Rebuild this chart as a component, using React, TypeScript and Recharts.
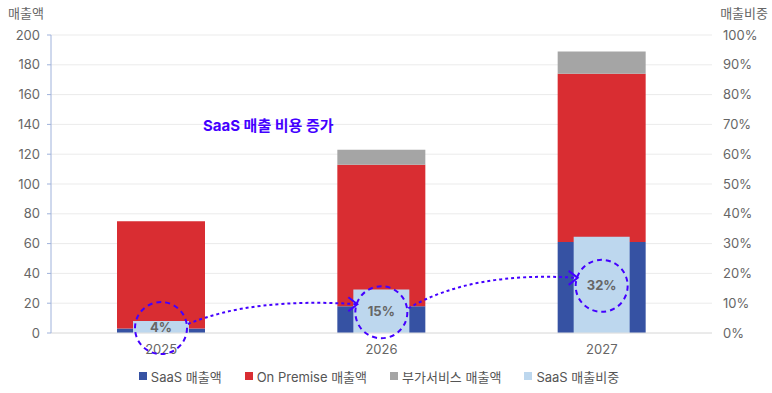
import React from 'react';
import { ComposedChart, Bar, XAxis, YAxis, CartesianGrid, Legend, LabelList, Customized } from 'recharts';

const years = ['2025', '2026', '2027'];
const saasRevenue = [3, 18, 61];
const onPremiseRevenue = [72, 95, 113];
const addOnRevenue = [0, 10, 15];
const saasShare = [4, 14.6, 32.3];
const leftTicks = [0, 20, 40, 60, 80, 100, 120, 140, 160, 180, 200];
const rightTicks = [0, 10, 20, 30, 40, 50, 60, 70, 80, 90, 100];

const seriesNames = ['SaaS 매출액', 'On Premise 매출액', '부가서비스 매출액', 'SaaS 매출비중'];
const colors = ['#3652a3', '#d92d32', '#a5a5a5', '#bdd7ee'];
const accent = '#4400ff';

const data = years.map((year, i) => ({
  year,
  saas: saasRevenue[i],
  onPrem: onPremiseRevenue[i],
  addOn: addOnRevenue[i],
  share: saasShare[i],
}));

const W = 772;
const H = 393;
const MARGIN = { top: 35, right: 0, bottom: 7, left: 0 };
const LEFT_AXIS_W = 51;
const RIGHT_AXIS_W = 60;
const PLOT_LEFT = MARGIN.left + LEFT_AXIS_W;
const PLOT_RIGHT = W - MARGIN.right - RIGHT_AXIS_W;
const STEP = (PLOT_RIGHT - PLOT_LEFT) / years.length;
const FONT = "Inter, 'Noto Sans CJK KR', sans-serif";

function ShareLabel(props: any) {
  const vb = props.viewBox && props.viewBox.width != null ? props.viewBox : props;
  const x = Number(vb.x), y = Number(vb.y), width = Number(vb.width), height = Number(vb.height);
  const cx = x + width / 2;
  const index = Math.round((cx - PLOT_LEFT - STEP / 2) / STEP);
  const value = saasShare[index];
  const cy = y + height / 2;
  const base = y + height;
  const pxPer = height / value;
  const r = 26;
  let arrow = null;
  if (index < years.length - 1) {
    const nextH = saasShare[index + 1] * pxPer;
    const ncx = cx + STEP;
    const ncy = base - nextH / 2;
    const sx = cx + r + 1;
    const sy = cy - 3;
    const ex = ncx - r + 2;
    const ey = ncy - 7;
    const qx = sx + (ex - sx) * 0.38;
    const qy = ey - 7;
    arrow = (
      <g>
        <path d={`M${sx},${sy} Q${qx},${qy} ${ex},${ey}`} fill="none" stroke={accent} strokeWidth={2} strokeDasharray="3 3" />
        <path d={`M${ex - 9},${ey - 7} L${ex},${ey} L${ex - 9},${ey + 7}`} fill="none" stroke={accent} strokeWidth={2} />
      </g>
    );
  }
  return (
    <g>
      <text x={cx} y={cy} textAnchor="middle" dominantBaseline="central" fontSize={13} fontWeight={700} fill="#666" fontFamily={FONT}>
        {Math.round(value)}%
      </text>
      <circle cx={cx} cy={cy + 1} r={r} fill="none" stroke={accent} strokeWidth={2} strokeDasharray="5 4" />
      {arrow}
    </g>
  );
}

function LegendContent() {
  return (
    <div style={{ display: 'flex', justifyContent: 'center', alignItems: 'center', height: 20, paddingRight: 14, fontFamily: FONT, fontSize: 13, color: '#555' }}>
      {seriesNames.map((n, i) => (
        <div key={n} style={{ display: 'flex', alignItems: 'center', marginRight: i < seriesNames.length - 1 ? 23 : 0 }}>
          <span style={{ display: 'inline-block', width: 8, height: 8, background: colors[i], marginRight: 4 }} />
          <span>{n}</span>
        </div>
      ))}
    </div>
  );
}

function Annotations() {
  return (
    <g fontFamily={FONT}>
      <text x={8} y={18} fontSize={13} fill="#666">매출액</text>
      <text x={768} y={18} fontSize={13} fill="#666" textAnchor="end">매출비중</text>
      <text x={203} y={131} fontSize={15} fontWeight={700} fill={accent}>SaaS 매출 비용 증가</text>
    </g>
  );
}

export default function App() {
  return (
    <div style={{ position: 'fixed', left: 0, top: 0, width: W, height: H, background: '#fff' }}>
      <ComposedChart width={W} height={H} data={data} margin={MARGIN} style={{ fontFamily: FONT }}>
        <CartesianGrid vertical={false} stroke="#ebebeb" yAxisId="left" xAxisId="main" />
        <XAxis xAxisId="main" dataKey="year" height={33} axisLine={{ stroke: '#e0e0e0' }} tickLine={false} tickMargin={6} tick={{ fill: '#666', fontSize: 13 }} />
        <XAxis xAxisId="ratio" dataKey="year" hide />
        <YAxis yAxisId="left" width={LEFT_AXIS_W} domain={[0, 200]} ticks={leftTicks} interval={0} axisLine={{ stroke: '#9fb2db' }} tickLine={{ stroke: '#9fb2db' }} tickSize={4} tickMargin={7} tick={{ fill: '#666', fontSize: 13 }} />
        <YAxis yAxisId="right" orientation="right" width={RIGHT_AXIS_W} domain={[0, 100]} ticks={rightTicks} interval={0} axisLine={false} tickLine={false} tickSize={6} tickMargin={5} tick={{ fill: '#666', fontSize: 13 }} tickFormatter={(v: number) => `${v}%`} />
        <Bar xAxisId="main" yAxisId="left" dataKey="saas" name={seriesNames[0]} stackId="a" fill={colors[0]} barSize={88} isAnimationActive={false} />
        <Bar xAxisId="main" yAxisId="left" dataKey="onPrem" name={seriesNames[1]} stackId="a" fill={colors[1]} barSize={88} isAnimationActive={false} />
        <Bar xAxisId="main" yAxisId="left" dataKey="addOn" name={seriesNames[2]} stackId="a" fill={colors[2]} barSize={88} isAnimationActive={false} />
        <Bar xAxisId="ratio" yAxisId="right" dataKey="share" name={seriesNames[3]} fill={colors[3]} barSize={56} isAnimationActive={false}>
          <LabelList dataKey="share" content={ShareLabel} />
        </Bar>
        <Legend verticalAlign="bottom" height={20} content={LegendContent} />
        <Customized component={Annotations} />
      </ComposedChart>
    </div>
  );
}
